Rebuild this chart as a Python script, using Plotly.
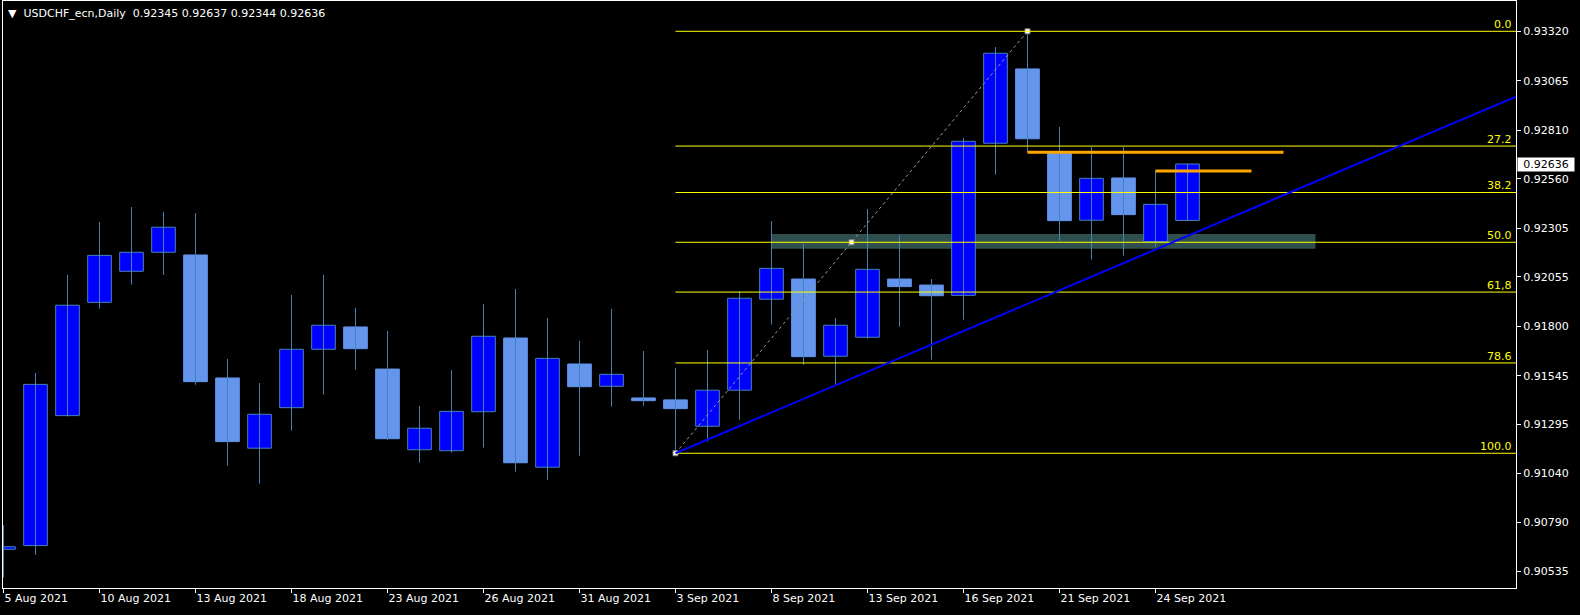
import plotly.graph_objects as go

# ---------------- data ----------------
dates = ["5 Aug", "6 Aug", "9 Aug", "10 Aug", "11 Aug", "12 Aug", "13 Aug",
         "16 Aug", "17 Aug", "18 Aug", "19 Aug", "20 Aug", "23 Aug", "24 Aug",
         "25 Aug", "26 Aug", "27 Aug", "30 Aug", "31 Aug", "1 Sep", "2 Sep",
         "3 Sep", "6 Sep", "7 Sep", "8 Sep", "9 Sep", "10 Sep", "13 Sep",
         "14 Sep", "15 Sep", "16 Sep", "17 Sep", "20 Sep", "21 Sep", "22 Sep",
         "23 Sep", "24 Sep", "27 Sep"]
opens = [0.90650, 0.90669, 0.91339, 0.91923, 0.92083, 0.92181, 0.92167,
         0.91533, 0.91171, 0.91380, 0.91681, 0.91796, 0.91579, 0.91163,
         0.91158, 0.91359, 0.91739, 0.91073, 0.91605, 0.91490, 0.91430,
         0.91420, 0.91284, 0.91470, 0.91939, 0.92043, 0.91645, 0.91743,
         0.92043, 0.92012, 0.91959, 0.92743, 0.93126, 0.92696, 0.92346,
         0.92564, 0.92236, 0.92345]
highs = [0.90775, 0.91559, 0.92064, 0.92337, 0.92414, 0.92389, 0.92383,
         0.91631, 0.91507, 0.91961, 0.92064, 0.91894, 0.91775, 0.91389,
         0.91574, 0.91914, 0.91992, 0.91842, 0.91724, 0.91889, 0.91672,
         0.91584, 0.91677, 0.91980, 0.92342, 0.92224, 0.91842, 0.92404,
         0.92270, 0.92043, 0.92770, 0.93239, 0.93320, 0.92827, 0.92724,
         0.92724, 0.92600, 0.92637]
lows = [0.90506, 0.90621, 0.91335, 0.91890, 0.92014, 0.92064, 0.91498,
        0.91081, 0.90988, 0.91261, 0.91447, 0.91576, 0.91213, 0.91096,
        0.91148, 0.91174, 0.91050, 0.91007, 0.91132, 0.91385, 0.91390,
        0.91145, 0.91205, 0.91318, 0.91808, 0.91601, 0.91497, 0.91736,
        0.91797, 0.91627, 0.91833, 0.92581, 0.92696, 0.92241, 0.92143,
        0.92163, 0.92210, 0.92344]
closes = [0.90663, 0.91500, 0.91908, 0.92165, 0.92181, 0.92310, 0.91514,
          0.91205, 0.91346, 0.91681, 0.91805, 0.91684, 0.91220, 0.91274,
          0.91361, 0.91748, 0.91096, 0.91634, 0.91488, 0.91552, 0.91416,
          0.91375, 0.91470, 0.91944, 0.92098, 0.91643, 0.91805, 0.92093,
          0.92004, 0.91957, 0.92753, 0.93207, 0.92766, 0.92344, 0.92562,
          0.92375, 0.92428, 0.92636]

x_tick_idx = [0, 3, 6, 9, 12, 15, 18, 21, 24, 27, 30, 33, 36]
x_tick_labels = ["5 Aug 2021", "10 Aug 2021", "13 Aug 2021", "18 Aug 2021",
                 "23 Aug 2021", "26 Aug 2021", "31 Aug 2021", "3 Sep 2021",
                 "8 Sep 2021", "13 Sep 2021", "16 Sep 2021", "21 Sep 2021",
                 "24 Sep 2021"]
y_tick_vals = [0.93320, 0.93065, 0.92810, 0.92560, 0.92305, 0.92055,
               0.91800, 0.91545, 0.91295, 0.91040, 0.90790, 0.90535]

# Fibonacci retracement anchors (bar index, price)
fib_low = (21, 0.91145)
fib_high = (32, 0.93320)
fib_levels = [0.0, 27.2, 38.2, 50.0, 61.8, 78.6, 100.0]
fib_texts = ["0.0", "27.2", "38.2", "50.0", "61,8", "78.6", "100.0"]

# Trend line anchors
trend_a = (21, 0.91145)
trend_b = (36, 0.92195)

# Support zone (x0, x1, y0, y1)
zone = (24, 41, 0.92199, 0.92275)

# Orange horizontal lines (x0, x1, price)
orange_lines = [(32, 40, 0.92696), (36, 39, 0.92600)]

symbol = "USDCHF_ecn,Daily"
last_price = 0.92636

# ---------------- figure ----------------
X_MIN, X_MAX = -0.0156, 47.266
Y_MIN, Y_MAX = 0.904504, 0.934762

idx = list(range(len(dates)))
fig = go.Figure()

# wicks
wx, wy = [], []
for i in idx:
    wx += [i, i, None]
    wy += [lows[i], highs[i], None]
fig.add_trace(go.Scatter(x=wx, y=wy, mode="lines",
                         line=dict(color="#4682B4", width=1),
                         hoverinfo="skip"))

bull = [i for i in idx if closes[i] >= opens[i]]
bear = [i for i in idx if closes[i] < opens[i]]

fig.add_trace(go.Bar(
    x=bull, base=[opens[i] for i in bull],
    y=[closes[i] - opens[i] for i in bull], width=0.74,
    marker=dict(color="#0000FF", line=dict(color="#4682B4", width=1))))
fig.add_trace(go.Bar(
    x=bear, base=[closes[i] for i in bear],
    y=[opens[i] - closes[i] for i in bear], width=0.74,
    marker=dict(color="#6495ED", line=dict(color="#6495ED", width=1))))

# fib diagonal
fig.add_trace(go.Scatter(x=[fib_low[0], fib_high[0]], y=[fib_low[1], fib_high[1]],
                         mode="lines", line=dict(color="#9a9a9a", width=1, dash="dot"),
                         hoverinfo="skip"))
mid = ((fib_low[0] + fib_high[0]) / 2, (fib_low[1] + fib_high[1]) / 2)
fig.add_trace(go.Scatter(x=[fib_low[0], mid[0], fib_high[0]],
                         y=[fib_low[1], mid[1], fib_high[1]], mode="markers",
                         marker=dict(symbol="square", size=5, color="white",
                                     line=dict(color="#808080", width=1)),
                         hoverinfo="skip"))

shapes = []
# zone (behind candles)
shapes.append(dict(type="rect", xref="x", yref="y", x0=zone[0], x1=zone[1],
                   y0=zone[2], y1=zone[3], fillcolor="#2F4F4F",
                   line=dict(width=0), layer="below"))
# fib levels
rng = fib_high[1] - fib_low[1]
annotations = []
for lv, txt in zip(fib_levels, fib_texts):
    p = fib_high[1] - rng * lv / 100.0
    shapes.append(dict(type="line", xref="x", yref="y", x0=fib_low[0], x1=X_MAX,
                       y0=p, y1=p, line=dict(color="#FFFF00", width=1),
                       layer="above"))
    annotations.append(dict(xref="paper", yref="y", x=1, y=p, text=txt,
                            xanchor="right", yanchor="bottom", xshift=-2, yshift=-2,
                            showarrow=False,
                            font=dict(color="#FFFF00", size=11, family="DejaVu Sans")))
# trend line ray
slope = (trend_b[1] - trend_a[1]) / (trend_b[0] - trend_a[0])
shapes.append(dict(type="line", xref="x", yref="y", x0=trend_a[0], y0=trend_a[1],
                   x1=X_MAX, y1=trend_a[1] + slope * (X_MAX - trend_a[0]),
                   line=dict(color="#0000FF", width=2), layer="above"))
# orange lines
for x0, x1, p in orange_lines:
    shapes.append(dict(type="line", xref="x", yref="y", x0=x0, x1=x1, y0=p, y1=p,
                       line=dict(color="#FFA500", width=3), layer="above"))

# title
o, h, l, c = opens[-1], highs[-1], lows[-1], closes[-1]
title = ("\u25BC\u00a0\u00a0" + symbol + "\u00a0\u00a0" +
         "\u00a0".join(f"{v:.5f}" for v in (o, h, l, c)))
annotations.append(dict(xref="paper", yref="paper", x=0, y=1, xanchor="left",
                        yanchor="top", xshift=3, yshift=-4, text=title,
                        showarrow=False,
                        font=dict(color="white", size=11, family="DejaVu Sans")))
# current price box
annotations.append(dict(xref="paper", yref="y", x=1, y=last_price, xanchor="left",
                        yanchor="middle", xshift=1, text=f"{last_price:.5f}",
                        showarrow=False, bgcolor="white", borderpad=0, width=56,
                        align="center",
                        font=dict(color="black", size=11, family="DejaVu Sans")))

fig.update_layout(
    width=1580, height=615,
    margin=dict(l=3, r=64, t=1, b=27, autoexpand=False),
    paper_bgcolor="black", plot_bgcolor="black",
    showlegend=False, barmode="overlay", hovermode=False,
    shapes=shapes, annotations=annotations,
    xaxis=dict(range=[X_MIN, X_MAX], tickvals=x_tick_idx, ticktext=x_tick_labels,
               showgrid=False, zeroline=False, showline=True, linecolor="white",
               linewidth=1, mirror=True, ticks="outside", ticklen=4,
               tickcolor="white", ticklabelposition="outside right",
               tickfont=dict(color="white", size=11, family="DejaVu Sans")),
    yaxis=dict(range=[Y_MIN, Y_MAX], side="right", tickvals=y_tick_vals,
               ticktext=[f"{v:.5f}" for v in y_tick_vals],
               showgrid=False, zeroline=False, showline=True, linecolor="white",
               linewidth=1, mirror=True, ticks="outside", ticklen=4,
               tickcolor="white",
               tickfont=dict(color="white", size=11, family="DejaVu Sans")),
)

fig.write_html(
    "out.html",
    config={"displayModeBar": False},
    post_script="document.body.style.margin='0';document.body.style.overflow='hidden';",
)
